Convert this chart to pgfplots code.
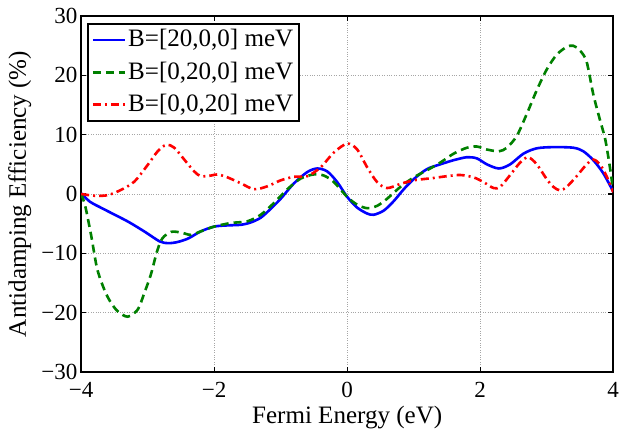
\documentclass[border=0pt]{standalone}
\usepackage{fontspec}
\setmainfont{Liberation Serif}
\usepackage{pgfplots}
\pgfplotsset{compat=1.18}
\definecolor{mgreen}{rgb}{0,0.5,0}
\begin{document}
\fontsize{25}{29}\selectfont
\begin{tikzpicture}
\begin{axis}[
    width=531pt, height=355pt,
    scale only axis,
    xmin=-4, xmax=4, ymin=-30, ymax=30,
    xtick={-4,-2,0,2,4},
    xticklabels={−4,−2,0,2,4},
    ytick={-30,-20,-10,0,10,20,30},
    yticklabels={−30,−20,−10,0,10,20,30},
    tick label style={font=\fontsize{23}{26}\selectfont},
    xticklabel style={inner xsep=0pt, yshift=-2pt},
    yticklabel style={inner xsep=3.5pt},
    tick align=inside,
    major tick length=5pt,
    tick style={black, line width=1.2pt},
    axis line style={line width=2pt},
    grid=major,
    major grid style={gray!70, dotted, line width=0.8pt},
    xlabel={Fermi Energy (eV)},
    ylabel={Antidamping Efficiency (\%)},
    label style={font=\fontsize{25}{29}\selectfont},
    xlabel style={yshift=9pt},
    ylabel style={yshift=-2pt},
    legend style={font=\fontsize{25}{29}\selectfont, draw=black, line width=2pt,
        at={(0.01,0.982)}, anchor=north west, inner sep=4pt, row sep=7pt,
        legend cell align=left},
    legend image code/.code={\draw[#1] (0pt,0pt) -- (32pt,0pt);},
    every axis plot/.append style={line width=2.6pt},
]
\addplot[blue, smooth] coordinates {
(-4.0,0.1) (-3.87,-1.3) (-3.74,-2.1) (-3.54,-3.25) (-3.29,-4.7) (-3.04,-6.4)
(-2.82,-8.0) (-2.69,-8.3) (-2.55,-8.1) (-2.39,-7.5) (-2.2,-6.3) (-2.0,-5.5)
(-1.8,-5.3) (-1.6,-5.2)
(-1.45,-4.8) (-1.3,-4.0) (-1.15,-2.5) (-1.0,-0.8) (-0.8,1.8) (-0.6,3.7)
(-0.45,4.3) (-0.3,3.8) (-0.15,2.0) (0.0,-0.5) (0.15,-2.3) (0.3,-3.3)
(0.4,-3.5) (0.55,-2.8) (0.7,-1.2) (0.85,0.8) (1.0,2.5) (1.2,4.2)
(1.4,5.0) (1.6,5.7) (1.8,6.2) (1.95,6.0) (2.1,5.0) (2.28,4.3)
(2.45,5.0) (2.65,6.8) (2.85,7.7) (3.1,7.9) (3.4,7.8) (3.55,7.2)
(3.7,5.7) (3.85,3.5) (4.0,0.4)
};
\addlegendentry{B=[20,0,0] meV}
\addplot[mgreen, smooth, dash pattern=on 8pt off 5pt] coordinates {
(-4.0,0.0) (-3.94,-2.0) (-3.85,-7.0) (-3.76,-12.6) (-3.65,-16.2) (-3.56,-18.2)
(-3.45,-19.8) (-3.3,-20.7) (-3.15,-19.5) (-3.06,-17.0) (-2.95,-13.5) (-2.86,-9.7)
(-2.78,-7.5) (-2.65,-6.4) (-2.5,-6.5) (-2.35,-6.9) (-2.2,-6.3) (-2.0,-5.5)
(-1.75,-4.9) (-1.5,-4.6) (-1.3,-3.5) (-1.1,-1.5) (-0.9,0.8) (-0.7,2.6)
(-0.5,3.3) (-0.35,3.1) (-0.2,2.0) (0.0,-0.5) (0.15,-1.8) (0.3,-2.4)
(0.45,-2.0) (0.6,-0.8) (0.8,1.2) (1.0,2.8) (1.2,4.0) (1.4,5.3)
(1.6,6.8) (1.8,7.8) (1.95,8.0) (2.1,7.5) (2.28,7.2) (2.4,7.8)
(2.55,9.8) (2.7,13.5) (2.85,17.5) (3.0,21.0) (3.15,23.5) (3.3,24.8)
(3.4,25.0) (3.5,24.2) (3.6,22.3) (3.7,16.8) (3.8,12.5) (3.88,9.2)
(3.95,4.5) (4.0,0.5)
};
\addlegendentry{B=[0,20,0] meV}
\addplot[red, smooth, dash pattern=on 8pt off 4pt on 2pt off 4pt] coordinates {
(-4.0,0.0) (-3.8,-0.3) (-3.6,-0.2) (-3.4,0.7) (-3.2,2.1) (-3.0,4.9)
(-2.85,7.2) (-2.72,8.3) (-2.6,7.8) (-2.45,5.8) (-2.3,3.8) (-2.2,3.0)
(-2.05,3.1) (-1.95,3.3) (-1.8,2.8) (-1.6,1.8) (-1.4,0.8) (-1.2,1.3)
(-1.0,2.3) (-0.8,2.9) (-0.6,3.0) (-0.4,4.5) (-0.2,7.0) (0.0,8.5)
(0.15,7.5) (0.3,4.5) (0.45,2.0) (0.6,1.0) (0.8,1.7) (1.0,2.3)
(1.3,2.7) (1.5,3.0) (1.7,3.2) (1.9,2.8) (2.05,2.0) (2.2,1.0)
(2.3,1.2) (2.45,3.2) (2.6,5.3) (2.72,6.2) (2.85,5.0) (3.0,2.5)
(3.1,1.2) (3.2,0.6) (3.3,1.2) (3.45,3.0) (3.6,5.0) (3.7,5.8)
(3.8,5.0) (3.9,3.0) (4.0,0.3)
};
\addlegendentry{B=[0,0,20] meV}
\end{axis}
\end{tikzpicture}
\end{document}
